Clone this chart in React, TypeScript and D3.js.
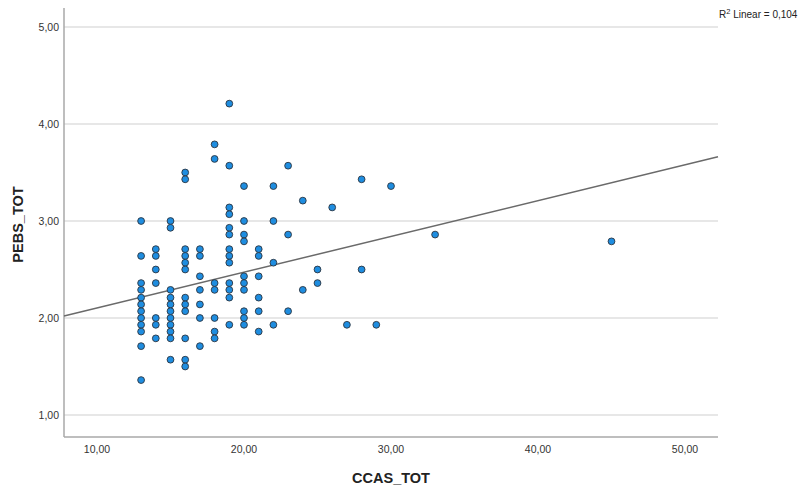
import React from "react";
import * as d3 from "d3";

// CCAS_TOT values (x) and PEBS_TOT values (y)
const ccas: number[] = [
  13, 13, 13, 13, 13, 13, 13, 13, 13, 13, 13, 13,
  14, 14, 14, 14, 14, 14, 14,
  15, 15, 15, 15, 15, 15, 15, 15, 15, 15, 15,
  16, 16, 16, 16, 16, 16, 16, 16, 16, 16, 16, 16,
  17, 17, 17, 17, 17, 17, 17,
  18, 18, 18, 18, 18, 18, 18,
  19, 19, 19, 19, 19, 19, 19, 19, 19, 19, 19, 19, 19,
  20, 20, 20, 20, 20, 20, 20, 20, 20, 20,
  21, 21, 21, 21, 21, 21,
  22, 22, 22, 22,
  23, 23, 23,
  24, 24,
  25, 25,
  26,
  27,
  28, 28,
  29,
  30,
  33,
  45,
];

const pebs: number[] = [
  3.0, 2.64, 2.36, 2.29, 2.21, 2.14, 2.07, 2.0, 1.93, 1.86, 1.71, 1.36,
  2.71, 2.64, 2.5, 2.36, 2.0, 1.93, 1.79,
  3.0, 2.93, 2.29, 2.21, 2.14, 2.07, 2.0, 1.93, 1.86, 1.79, 1.57,
  3.5, 3.43, 2.71, 2.64, 2.57, 2.5, 2.21, 2.14, 2.07, 1.79, 1.57, 1.5,
  2.71, 2.64, 2.43, 2.29, 2.14, 2.0, 1.71,
  3.79, 3.64, 2.36, 2.29, 2.0, 1.86, 1.79,
  4.21, 3.57, 3.14, 3.07, 2.93, 2.86, 2.71, 2.64, 2.57, 2.36, 2.29, 2.21, 1.93,
  3.36, 3.0, 2.86, 2.79, 2.43, 2.36, 2.29, 2.07, 2.0, 1.93,
  2.71, 2.64, 2.43, 2.21, 2.07, 1.86,
  3.36, 3.0, 2.57, 1.93,
  3.57, 2.86, 2.07,
  3.21, 2.29,
  2.5, 2.36,
  3.14,
  1.93,
  3.43, 2.5,
  1.93,
  3.36,
  2.86,
  2.79,
];

// fit line as drawn in the reference (intercept, slope)
const fitIntercept = 1.734;
const fitSlope = 0.0369;

const xTicks: number[] = [10, 20, 30, 40, 50];
const yTicks: number[] = [1, 2, 3, 4, 5];
const xTitle = "CCAS_TOT";
const yTitle = "PEBS_TOT";
const r2Text = "0,104";

const W = 798;
const H = 491;
const left = 64;
const right = 718;
const top = 8;
const bottom = 437;

const fmt = (v: number) => v.toFixed(2).replace(".", ",");

export default function App() {
  const x = d3.scaleLinear().domain([10, 50]).range([97, 685]);
  const y = d3.scaleLinear().domain([1, 5]).range([415, 27]);
  const xDom = [x.invert(left), x.invert(right)];

  const line = d3
    .line<number>()
    .x((d) => x(d))
    .y((d) => y(fitIntercept + fitSlope * d));

  const font = "'Liberation Sans', Arial, sans-serif";

  return (
    <svg
      width={W}
      height={H}
      style={{ position: "fixed", left: 0, top: 0, background: "#fff" }}
      fontFamily={font}
    >
      <rect x={0} y={0} width={W} height={H} fill="#fff" />
      {yTicks.map((t) => (
        <g key={t}>
          <line x1={left} x2={right} y1={y(t)} y2={y(t)} stroke="#cfcfcf" strokeWidth={1.2} />
          <text x={59} y={y(t)} dy="0.35em" textAnchor="end" fontSize={10.5} fill="#333">
            {fmt(t)}
          </text>
        </g>
      ))}
      {xTicks.map((t) => (
        <text key={t} x={x(t)} y={453} textAnchor="middle" fontSize={10.5} fill="#333">
          {fmt(t)}
        </text>
      ))}
      <line x1={left} x2={left} y1={top} y2={bottom} stroke="#a8a8a8" strokeWidth={1.5} />
      <line x1={left} x2={right} y1={bottom} y2={bottom} stroke="#a8a8a8" strokeWidth={1.5} />
      <path d={line(xDom) || ""} stroke="#6a6a6a" strokeWidth={1.5} fill="none" />
      {ccas.map((cx, i) => (
        <circle
          key={i}
          cx={x(cx)}
          cy={y(pebs[i])}
          r={3.4}
          fill="#1e8de0"
          stroke="#2b3440"
          strokeWidth={0.9}
        />
      ))}
      <text x={719} y={18} fontSize={10} fill="#222">
        R<tspan dy={-4} fontSize={7.5}>2</tspan>
        <tspan dy={4}> Linear = {r2Text}</tspan>
      </text>
      <text x={(left + right) / 2} y={483} textAnchor="middle" fontSize={14.5} fontWeight="bold" fill="#222">
        {xTitle}
      </text>
      <text
        transform={`translate(23, ${(top + bottom) / 2 + 2}) rotate(-90)`}
        textAnchor="middle"
        fontSize={14.5}
        fontWeight="bold"
        fill="#222"
      >
        {yTitle}
      </text>
    </svg>
  );
}
